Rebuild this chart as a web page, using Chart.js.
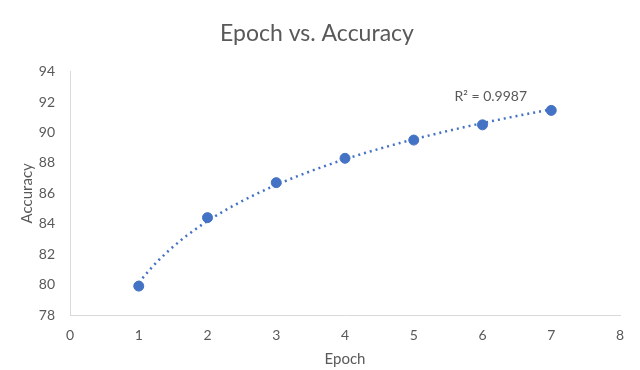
<!DOCTYPE html>
<html>
<head>
<meta charset="utf-8">
<script src="https://cdn.jsdelivr.net/npm/chart.js@4.4.1/dist/chart.umd.min.js"></script>
<style>
  html, body { margin: 0; padding: 0; background: #fff; }
  #wrap { width: 640px; height: 370px; }
</style>
</head>
<body>
<div id="wrap"><canvas id="chart"></canvas></div>
<script>
// Data
const epochs = [1, 2, 3, 4, 5, 6, 7];
const accuracy = [79.9, 84.4, 86.7, 88.3, 89.5, 90.5, 91.45];
const xTicks = [0, 1, 2, 3, 4, 5, 6, 7, 8];
const yTicks = [78, 80, 82, 84, 86, 88, 90, 92, 94];
const r2Label = 'R² = 0.9987';

const grey = '#595959';
const blue = '#4472C4';
const font = 'Lato, "Open Sans", sans-serif';

// logarithmic trendline (least squares on ln x)
function logFit(xs, ys) {
    const n = xs.length;
    const lx = xs.map(x => Math.log(x));
    const mx = lx.reduce((a, b) => a + b, 0) / n;
    const my = ys.reduce((a, b) => a + b, 0) / n;
    let sxy = 0, sxx = 0;
    for (let i = 0; i < n; i++) {
        sxy += (lx[i] - mx) * (ys[i] - my);
        sxx += (lx[i] - mx) * (lx[i] - mx);
    }
    const a = sxy / sxx;
    return { a: a, b: my - a * mx };
}
const fit = logFit(epochs, accuracy);
const trend = [];
for (let x = epochs[0]; x <= epochs[epochs.length - 1] + 1e-9; x += 0.1) {
    trend.push({ x: x, y: fit.a * Math.log(x) + fit.b });
}

// R² label drawn in data coordinates
const r2Plugin = {
    id: 'r2',
    afterDatasetsDraw(chart) {
        const { ctx, scales } = chart;
        ctx.save();
        ctx.font = '14px ' + font;
        ctx.fillStyle = grey;
        ctx.textAlign = 'center';
        ctx.textBaseline = 'middle';
        ctx.fillText(r2Label, scales.x.getPixelForValue(6.12), scales.y.getPixelForValue(92.35));
        ctx.restore();
    }
};

new Chart(document.getElementById('chart'), {
    type: 'scatter',
    data: {
        datasets: [{
            label: 'trend',
            type: 'line',
            data: trend,
            borderColor: blue,
            borderWidth: 2.5,
            borderDash: [2, 4],
            pointRadius: 0,
            fill: false
        }, {
            label: 'Accuracy',
            data: epochs.map((e, i) => ({ x: e, y: accuracy[i] })),
            backgroundColor: blue,
            borderColor: blue,
            pointRadius: 5
        }]
    },
    options: {
        responsive: true,
        maintainAspectRatio: false,
        animation: false,
        layout: { padding: { left: 14, right: 20, top: 18, bottom: 2 } },
        plugins: {
            legend: { display: false },
            tooltip: { enabled: false },
            title: {
                display: true,
                text: 'Epoch vs. Accuracy',
                color: grey,
                font: { family: font, size: 23, weight: 'normal' },
                padding: { top: 2, bottom: 24 }
            }
        },
        scales: {
            x: {
                type: 'linear',
                min: xTicks[0],
                max: xTicks[xTicks.length - 1],
                afterBuildTicks: axis => { axis.ticks = xTicks.map(v => ({ value: v })); },
                afterFit: axis => { axis.height = 53; },
                grid: { display: false, drawTicks: false },
                border: { color: '#d9d9d9', width: 1 },
                ticks: { color: grey, font: { family: font, size: 14 }, padding: 12 },
                title: { display: true, text: 'Epoch', color: grey, font: { family: font, size: 15 }, padding: { top: 4, bottom: 0 } }
            },
            y: {
                min: yTicks[0],
                max: yTicks[yTicks.length - 1],
                afterBuildTicks: axis => { axis.ticks = yTicks.map(v => ({ value: v })); },
                afterFit: axis => { axis.width = 56; },
                grid: { display: false, drawTicks: false },
                border: { color: '#d9d9d9', width: 1 },
                ticks: { color: grey, font: { family: font, size: 14 }, padding: 15 },
                title: { display: true, text: 'Accuracy', color: grey, font: { family: font, size: 15 }, padding: { bottom: 4 } }
            }
        }
    },
    plugins: [r2Plugin]
});
</script>
</body>
</html>
